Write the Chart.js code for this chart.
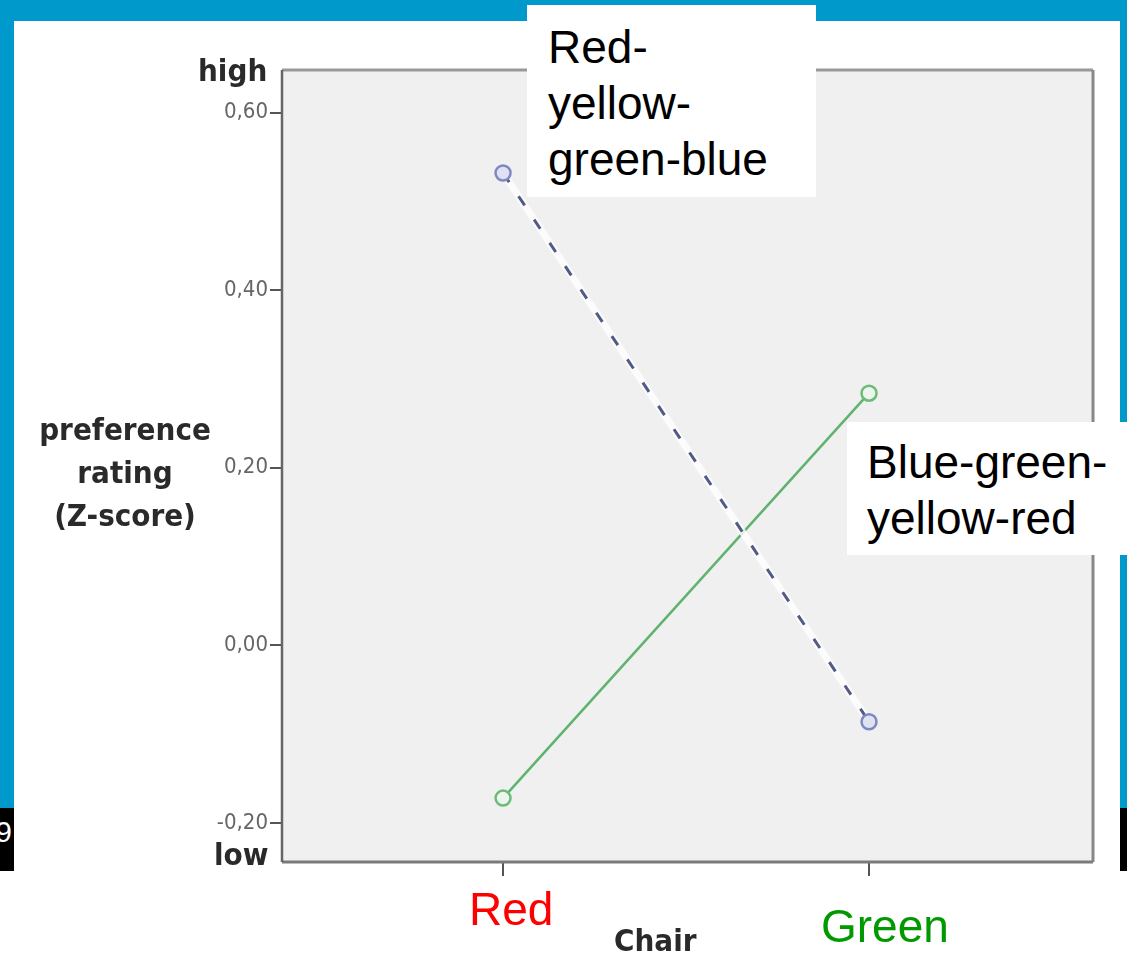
<!DOCTYPE html>
<html>
<head>
<meta charset="utf-8">
<script src="https://cdn.jsdelivr.net/npm/chart.js@4.4.1/dist/chart.umd.min.js"></script>
<style>
  html, body { margin: 0; padding: 0; background: #fff; }
  body { width: 1127px; height: 954px; position: relative; overflow: hidden; font-family: 'Liberation Sans', Arial, sans-serif; }
  .abs { position: absolute; }
  #blue { left: 0; top: 0; width: 1127px; height: 808px; background: #0099cc; }
  #black { left: 0; top: 808px; width: 1127px; height: 63px; background: #000; }
  #panel { left: 14px; top: 21px; width: 1106px; height: 933px; background: #fff; }
  #pageNo { left: 0; top: 808px; width: 14px; height: 63px; overflow: hidden; }
  #pageNo span { position: absolute; right: 2px; top: 7px; color: #fff; font-size: 30px; }
  #chart { left: 0; top: 0; z-index: 2; }
  .spss { font-family: 'DejaVu Sans Condensed', 'DejaVu Sans', sans-serif; font-stretch: condensed; font-weight: bold; color: #2a2a2a; z-index: 3; }
  .box { background: #fff; z-index: 4; font-size: 46px; line-height: 56px; color: #000; box-sizing: border-box; }
  .xlab { z-index: 3; font-size: 46px; line-height: 56px; }
</style>
</head>
<body>
<div id="blue" class="abs"></div>
<div id="black" class="abs"></div>
<div id="panel" class="abs"></div>
<div id="pageNo" class="abs"><span>9</span></div>
<canvas id="chart" class="abs" width="1127" height="954"></canvas>

<div class="abs spss" style="left:198px;top:50px;font-size:31px;line-height:40px;">high</div>
<div class="abs spss" style="left:214px;top:834px;font-size:31px;line-height:40px;">low</div>
<div class="abs spss" style="left:25px;top:408px;width:200px;text-align:center;font-size:31px;line-height:43px;">preference<br>rating<br>(Z-score)</div>
<div class="abs spss" style="left:614px;top:920px;font-size:31px;line-height:40px;">Chair</div>

<div id="xLabels"></div>

<div class="abs box" style="left:527px;top:5px;width:289px;height:192px;padding:14px 0 0 21px;">Red-<br>yellow-<br>green-blue</div>
<div class="abs box" style="left:847px;top:422px;width:280px;height:133px;padding:12px 0 0 20px;">Blue-green-<br>yellow-red</div>

<script>
// data
const xLabels = ['Red', 'Green'];
const xValues = [0, 1];
const xLabelColors = ['#ff0000', '#009900'];
const rygbValues = [0.532, -0.086];   // Red-yellow-green-blue (dashed)
const bgyrValues = [-0.172, 0.284];   // Blue-green-yellow-red (solid)
const yTicks = [-0.2, 0, 0.2, 0.4, 0.6];

const toPoints = vals => xValues.map((x, i) => ({ x: x, y: vals[i] }));

// grey plot box like the SPSS output
const frame = {
    id: 'frame',
    beforeDraw(chart) {
        const a = chart.chartArea, ctx = chart.ctx;
        ctx.save();
        ctx.fillStyle = '#f0f0f0';
        ctx.fillRect(a.left, a.top, a.right - a.left, a.bottom - a.top);
        ctx.restore();
    },
    beforeDatasetsDraw(chart) {
        const a = chart.chartArea, ctx = chart.ctx;
        ctx.save();
        ctx.lineWidth = 3;
        ctx.strokeStyle = '#999';
        ctx.beginPath(); ctx.moveTo(a.left, a.top); ctx.lineTo(a.right, a.top); ctx.stroke();
        ctx.strokeStyle = '#888';
        ctx.beginPath(); ctx.moveTo(a.right, a.top); ctx.lineTo(a.right, a.bottom); ctx.stroke();
        ctx.strokeStyle = '#7a7a7a';
        ctx.beginPath(); ctx.moveTo(a.left, a.bottom); ctx.lineTo(a.right, a.bottom); ctx.stroke();
        ctx.strokeStyle = '#666'; ctx.lineWidth = 2.5;
        ctx.beginPath(); ctx.moveTo(a.left, a.top); ctx.lineTo(a.left, a.bottom); ctx.stroke();
        ctx.restore();
    }
};

const chart = new Chart(document.getElementById('chart'), {
    type: 'line',
    data: {
        datasets: [
            { data: toPoints(bgyrValues), order: 2, borderColor: '#5fb36f', borderWidth: 2.5,
              pointRadius: 7.5, pointBorderColor: '#6cbc78', pointBorderWidth: 2.5, pointBackgroundColor: '#eef5ee' },
            { data: toPoints(rygbValues), order: 1, borderColor: 'rgba(255,255,255,0.8)', borderWidth: 7, pointRadius: 0 },
            { data: toPoints(rygbValues), order: 0, borderColor: '#525a86', borderWidth: 3, borderDash: [11, 17],
              pointRadius: 7.5, pointBorderColor: '#8088c4', pointBorderWidth: 2.5, pointBackgroundColor: '#dfe2f3' }
        ]
    },
    options: {
        responsive: false,
        animation: false,
        plugins: { legend: { display: false }, tooltip: { enabled: false } },
        layout: { padding: { left: 200, right: 34, top: 70, bottom: 72 } },
        scales: {
            x: {
                type: 'linear', min: -0.604, max: 1.612,
                afterBuildTicks: s => { s.ticks = xValues.map(v => ({ value: v })); },
                afterFit: s => { s.height = 20; },
                ticks: { display: false },
                grid: { drawOnChartArea: false, tickLength: 14, color: '#555', lineWidth: 2 },
                border: { display: false }
            },
            y: {
                min: -0.244, max: 0.648,
                afterBuildTicks: s => { s.ticks = yTicks.map(v => ({ value: v })); },
                afterFit: s => { s.width = 82; },
                ticks: {
                    callback: v => v.toFixed(2).replace('.', ','),
                    color: '#666', padding: 2,
                    font: { family: "'DejaVu Sans Condensed', 'DejaVu Sans'", size: 22 }
                },
                grid: { drawOnChartArea: false, tickLength: 12, color: '#555', lineWidth: 2 },
                border: { display: false }
            }
        }
    },
    plugins: [frame]
});

// category names under the x ticks, placed from the x scale
const xs = chart.scales.x;
const labelShift = [{ dx: 8, top: 881 }, { dx: 16, top: 898 }];
const holder = document.getElementById('xLabels');
xLabels.forEach((name, i) => {
    const d = document.createElement('div');
    d.className = 'abs xlab';
    d.textContent = name;
    d.style.color = xLabelColors[i];
    d.style.top = labelShift[i].top + 'px';
    holder.appendChild(d);
    const w = d.offsetWidth;
    d.style.left = (xs.getPixelForValue(xValues[i]) + labelShift[i].dx - w / 2) + 'px';
});
</script>
</body>
</html>
